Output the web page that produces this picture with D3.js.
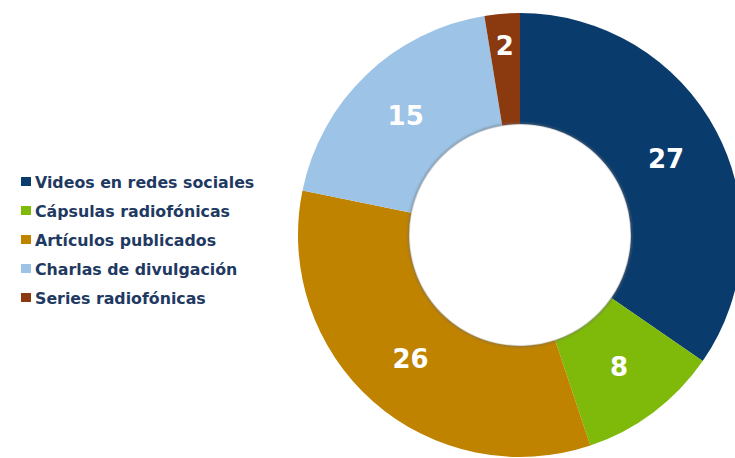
<!DOCTYPE html>
<html>
<head>
<meta charset="utf-8">
<script src="https://cdn.jsdelivr.net/npm/d3@7"></script>
<style>
  html, body { margin: 0; padding: 0; background: #ffffff; }
  svg { display: block; }
</style>
</head>
<body>
<svg id="chart" width="735" height="458"></svg>
<script>
const categories = ["Videos en redes sociales", "Cápsulas radiofónicas", "Artículos publicados", "Charlas de divulgación", "Series radiofónicas"];
const values = [27, 8, 26, 15, 2];
const colors = ["#093b6d", "#7fba0a", "#c08300", "#9dc3e6", "#8b3a0f"];

const svg = d3.select("#chart");
const cx = 520, cy = 235, outerR = 222, innerR = 111;

const defs = svg.append("defs");
const blur = defs.append("filter").attr("id", "blur").attr("x", "-10%").attr("y", "-10%").attr("width", "120%").attr("height", "120%");
blur.append("feGaussianBlur").attr("stdDeviation", 1.2);

const pie = d3.pie().sort(null).value(d => d);
const arcs = pie(values);
const arc = d3.arc().innerRadius(innerR).outerRadius(outerR);
const labelArc = d3.arc().innerRadius(165).outerRadius(165);

const g = svg.append("g").attr("transform", `translate(${cx},${cy})`);

g.selectAll("path.slice")
  .data(arcs)
  .join("path")
  .attr("class", "slice")
  .attr("d", arc)
  .attr("fill", (d, i) => colors[i]);

// soft shadow on inner edge
g.append("circle")
  .attr("r", innerR + 0.5)
  .attr("fill", "none")
  .attr("stroke", "#6d6d6d")
  .attr("stroke-width", 1.5)
  .attr("opacity", 0.7)
  .attr("filter", "url(#blur)");
g.append("circle")
  .attr("r", innerR - 1)
  .attr("fill", "#ffffff");

g.selectAll("text.lbl")
  .data(arcs)
  .join("text")
  .attr("class", "lbl")
  .attr("transform", (d, i) => {
    const c = labelArc.centroid(d);
    // small slices pushed toward outer edge
    const span = d.endAngle - d.startAngle;
    const k = span < 0.3 ? 190 / 165 : 1;
    return `translate(${c[0] * k},${c[1] * k})`;
  })
  .attr("text-anchor", "middle")
  .attr("dy", "0.36em")
  .attr("fill", "#ffffff")
  .attr("font-family", "DejaVu Sans, Verdana, sans-serif")
  .attr("font-weight", "bold")
  .attr("font-size", 26)
  .text(d => d.data);

// legend
const legend = svg.append("g").attr("transform", "translate(21,182)");
const rowH = 29;
const items = legend.selectAll("g.item")
  .data(categories)
  .join("g")
  .attr("class", "item")
  .attr("transform", (d, i) => `translate(0,${i * rowH})`);
items.append("rect")
  .attr("x", 0).attr("y", -5)
  .attr("width", 10).attr("height", 9)
  .attr("fill", (d, i) => colors[i]);
items.append("text")
  .attr("x", 14)
  .attr("y", 0)
  .attr("dy", "0.36em")
  .attr("fill", "#1f3a62")
  .attr("font-family", "DejaVu Sans, Verdana, sans-serif")
  .attr("font-weight", "bold")
  .attr("font-size", 15.8)
  .text(d => d);
</script>
</body>
</html>
